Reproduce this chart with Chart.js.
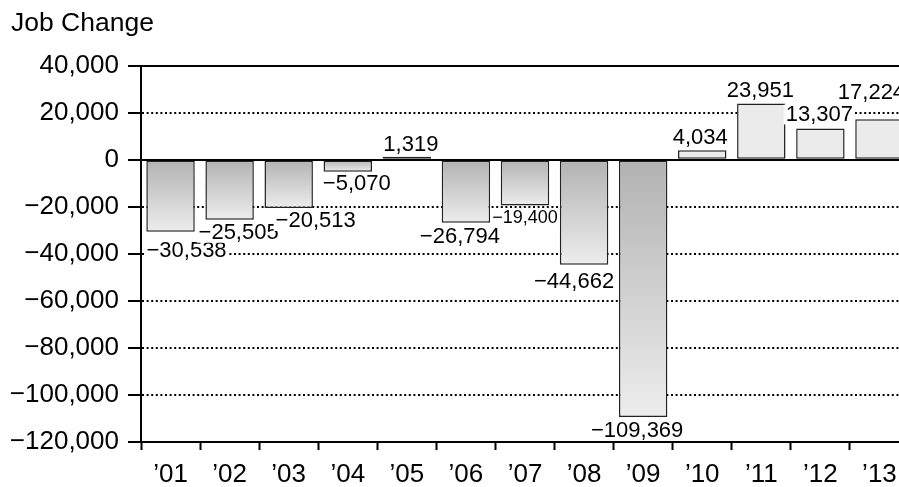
<!doctype html>
<html>

<head>
	<title>Job Change</title>
	<script src="https://cdn.jsdelivr.net/npm/chart.js@4/dist/chart.umd.min.js"></script>
	<style>
		html, body {
			margin: 0;
			padding: 0;
			overflow: hidden;
			background: #fff;
		}
		#wrap {
			width: 910px;
			height: 487px;
		}
	</style>
</head>

<body>
	<div id="wrap">
		<canvas id="canvas"></canvas>
	</div>
	<script>
		var years = ['\u201901', '\u201902', '\u201903', '\u201904', '\u201905', '\u201906', '\u201907',
			'\u201908', '\u201909', '\u201910', '\u201911', '\u201912', '\u201913'];
		var jobChange = [-30538, -25505, -20513, -5070, 1319, -26794, -19400, -44662, -109369, 4034, 23951, 13307, 17224];
		var yTicks = [-120000, -100000, -80000, -60000, -40000, -20000, 0, 20000, 40000];

		// label nudges (px) so the value labels sit like the original
		var labelDx = [16, 9, 27, 9, 4, -6, 0, -10, -6, -2, -1, -1, -8];
		var labelGap = [19, 13, 13, 12, 12, 14, 13, 17, 14, 12, 13, 14, 26];
		var labelSize = [22, 22, 22, 22, 22, 22, 18, 22, 22, 22, 22, 22, 22];

		var FONT = '"Liberation Sans", Arial, sans-serif';

		var fmt = function(v) {
			var s = Math.abs(v).toLocaleString('en-US');
			return v < 0 ? '\u2212' + s : s;
		};

		var barFill = function(ctx) {
			var chart = ctx.chart;
			var y = chart.scales.y;
			var v = ctx.raw;
			if (v >= 0) {
				return '#ebebeb';
			}
			if (!y || v === undefined) {
				return '#d0d0d0';
			}
			var y0 = y.getPixelForValue(0);
			var y1 = y.getPixelForValue(v);
			if (!isFinite(y0) || !isFinite(y1) || y0 === y1) {
				return '#d0d0d0';
			}
			var g = chart.ctx.createLinearGradient(0, y0, 0, y1);
			g.addColorStop(0, '#b2b2b2');
			g.addColorStop(1, '#ededed');
			return g;
		};

		var solidLines = {
			id: 'solidLines',
			beforeDatasetsDraw: function(chart) {
				var ctx = chart.ctx;
				var area = chart.chartArea;
				var y = chart.scales.y;
				ctx.save();
				ctx.strokeStyle = '#000';
				ctx.lineWidth = 2;
				[0, yTicks[yTicks.length - 1]].forEach(function(v) {
					var py = Math.round(y.getPixelForValue(v));
					ctx.beginPath();
					ctx.moveTo(area.left, py);
					ctx.lineTo(area.right, py);
					ctx.stroke();
				});
				ctx.restore();
			}
		};

		var valueLabels = {
			id: 'valueLabels',
			afterDatasetsDraw: function(chart) {
				var ctx = chart.ctx;
				var meta = chart.getDatasetMeta(0);
				ctx.save();
				ctx.textAlign = 'center';
				ctx.textBaseline = 'middle';
				meta.data.forEach(function(bar, i) {
					var v = jobChange[i];
					var txt = fmt(v);
					ctx.font = labelSize[i] + 'px ' + FONT;
					var px = bar.x + labelDx[i];
					var py = v < 0 ? bar.y + labelGap[i] : bar.y - labelGap[i];
					var w = ctx.measureText(txt).width;
					// labels knock out the dotted grid behind them
					ctx.fillStyle = '#fff';
					ctx.fillRect(px - w / 2 - 2, py - labelSize[i] * 0.45, w + 4, labelSize[i] * 0.9);
					ctx.fillStyle = '#000';
					ctx.fillText(txt, px, py);
				});
				ctx.restore();
			}
		};

		var config = {
			type: 'bar',
			data: {
				labels: years,
				datasets: [{
					label: 'Job Change',
					data: jobChange,
					backgroundColor: barFill,
					borderColor: '#222',
					borderWidth: 1.5,
					borderSkipped: false,
					barPercentage: 0.82,
					categoryPercentage: 1
				}]
			},
			options: {
				responsive: true,
				maintainAspectRatio: false,
				animation: false,
				layout: {
					padding: { left: 11, right: 1, top: 0, bottom: 0 }
				},
				plugins: {
					legend: { display: false },
					tooltip: { enabled: false },
					title: {
						display: true,
						text: 'Job Change',
						align: 'start',
						color: '#000',
						font: { family: FONT, size: 26.5, weight: 'normal' },
						padding: { top: 8, bottom: 26 }
					}
				},
				scales: {
					x: {
						grid: {
							drawOnChartArea: false,
							offset: true,
							tickLength: 8,
							tickWidth: 2,
							tickColor: '#000'
						},
						border: { color: '#000', width: 2 },
						ticks: {
							color: '#000',
							padding: 9,
							font: { family: FONT, size: 26 }
						},
						afterFit: function(scale) {
							scale.height = 45;
						}
					},
					y: {
						min: yTicks[0],
						max: yTicks[yTicks.length - 1],
						grid: {
							color: '#000',
							lineWidth: 2,
							tickLength: 13,
							tickWidth: 2,
							tickColor: '#000',
							tickBorderDash: []
						},
						border: { color: '#000', width: 2, dash: [2, 2.6] },
						afterBuildTicks: function(scale) {
							scale.ticks = yTicks.map(function(v) {
								return { value: v };
							});
						},
						ticks: {
							color: '#000',
							padding: 9,
							font: { family: FONT, size: 26 },
							callback: function(v) {
								return fmt(v);
							}
						},
						afterFit: function(scale) {
							scale.width = 130;
						}
					}
				}
			},
			plugins: [solidLines, valueLabels]
		};

		window.onload = function() {
			window.myBar = new Chart(document.getElementById('canvas'), config);
		};
	</script>
</body>

</html>
